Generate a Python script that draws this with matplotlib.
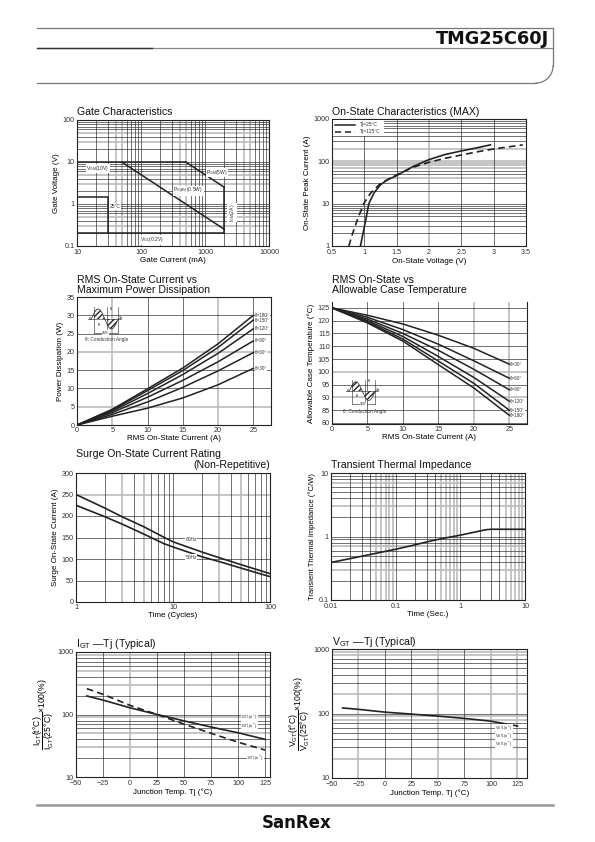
import numpy as np
import matplotlib
matplotlib.use("Agg")
import matplotlib.pyplot as plt

plt.rcParams['font.family'] = ['Liberation Sans', 'DejaVu Sans', 'Noto Sans CJK JP']
plt.rcParams['mathtext.fontset'] = 'custom'
plt.rcParams['mathtext.rm'] = 'Liberation Sans'
plt.rcParams['mathtext.it'] = 'Liberation Sans'

# ---------------- data ----------------
# Gate characteristics (mA, V)
gate_vgm_x = [10, 500]; gate_vgm_y = [10, 10]
gate_pgm_x = [500, 2000]; gate_pgm_y = [10, 2.5]
gate_igm_x = [2000, 2000]; gate_igm_y = [2.5, 0.2]
gate_pgav_x = [50, 2000]; gate_pgav_y = [10, 0.25]
gate_vgd_x = [10, 2000]; gate_vgd_y = [0.2, 0.2]
gate_25_x = [10, 30, 30]; gate_25_y = [1.5, 1.5, 0.2]

# On-state characteristics
on_v25 = [0.94, 0.98, 1.02, 1.07, 1.15, 1.25, 1.35, 1.5, 1.75, 2.0, 2.25, 2.5, 2.75, 2.95]
on_i25 = [1, 2, 4, 10, 18, 28, 36, 46, 75, 110, 145, 176, 210, 245]
on_v125 = [0.76, 0.82, 0.9, 0.99, 1.1, 1.25, 1.4, 1.5, 1.75, 2.0, 2.25, 2.5, 2.75, 3.0, 3.25, 3.45]
on_i125 = [1, 2, 4.5, 10, 18, 30, 40, 48, 72, 95, 118, 141, 168, 196, 222, 245]

# RMS current vs power dissipation
rms_x = [0, 5, 10, 15, 20, 25]
pw_labels = ['θ=180°', 'θ=150°', 'θ=120°', 'θ=90°', 'θ=60°', 'θ=30°']
pw_180 = [0, 4.3, 9.9, 15.6, 22.2, 30.0]
pw_150 = [0, 4.1, 9.4, 14.9, 21.2, 28.7]
pw_120 = [0, 3.8, 8.6, 13.8, 19.6, 26.3]
pw_90 = [0, 3.4, 7.6, 12.2, 17.3, 23.0]
pw_60 = [0, 2.9, 6.3, 10.3, 14.8, 19.8]
pw_30 = [0, 2.4, 4.6, 7.4, 11.0, 15.5]

# RMS current vs allowable case temperature
ct_labels = ['θ=30°', 'θ=60°', 'θ=90°', 'θ=120°', 'θ=150°', 'θ=180°']
ct_30 = [125, 122.1, 118.7, 114.3, 109.2, 103.0]
ct_60 = [125, 121.3, 116.5, 110.8, 104.3, 97.5]
ct_90 = [125, 120.6, 115.0, 108.4, 101.0, 93.0]
ct_120 = [125, 120.0, 113.8, 106.0, 97.8, 88.5]
ct_150 = [125, 119.5, 112.8, 104.2, 95.5, 85.0]
ct_180 = [125, 119.1, 112.0, 102.8, 93.7, 83.0]

# Surge current
surge_cyc = [1, 2, 3, 5, 8, 10, 20, 30, 50, 100]
surge_60 = [250, 218, 198, 175, 151, 140, 116, 103, 87, 66]
surge_50 = [225, 198, 181, 158, 136, 128, 105, 94, 79, 59]

# Transient thermal impedance
tt_t = [0.01, 0.02, 0.04, 0.1, 0.2, 0.3, 0.5, 1, 2, 2.5, 3, 5, 10]
tt_z = [0.39, 0.45, 0.52, 0.63, 0.74, 0.82, 0.92, 1.05, 1.22, 1.28, 1.3, 1.3, 1.3]

# IGT - Tj
igt_t = [-40, -25, 0, 25, 50, 75, 100, 125]
igt_solid = [198, 170, 128, 100, 79, 63, 51, 40]
igt_dash = [259, 210, 140, 100, 70, 50, 36, 27]
igt_labels = ['I$_{\\rm GT1}$(Ⅰ$^+$)', 'I$_{\\rm GT1}$(Ⅰ$^-$)', 'I$_{\\rm GT1}$(Ⅲ$^-$)']

# VGT - Tj
vgt_t = [-40, -25, 0, 25, 50, 75, 100, 125]
vgt_v = [122, 116, 105, 98, 91, 84, 76, 64]
vgt_labels = ['V$_{\\rm GT1}$(Ⅰ$^+$)', 'V$_{\\rm GT1}$(Ⅰ$^-$)', 'V$_{\\rm GT1}$(Ⅲ$^-$)']

# ---------------- layout helpers ----------------
W, H = 595, 842
fig = plt.figure(figsize=(W / 100, H / 100), dpi=100)

BLK = '#222222'
GRY = '#bbbbbb'
TICK_FS = 5.2
LAB_FS = 5.8
TITLE_FS = 7.6


def add_ax(x0, y0, x1, y1):
    return fig.add_axes([x0 / W, 1 - y1 / H, (x1 - x0) / W, (y1 - y0) / H])


def style(ax, xpad=1.5):
    for s in ax.spines.values():
        s.set_linewidth(0.8)
        s.set_color(BLK)
    ax.tick_params(length=0, labelsize=TICK_FS, pad=1.5, colors='#333333')
    ax.tick_params(axis='x', pad=xpad)
    ax.minorticks_off()


def vline(ax, v, gray=False):
    ax.axvline(v, color=GRY if gray else BLK, lw=1.2 if gray else 0.45, zorder=0.5 if gray else 0.6)


def hline(ax, v, gray=False):
    ax.axhline(v, color=GRY if gray else BLK, lw=1.2 if gray else 0.45, zorder=0.5 if gray else 0.6)


def loggrid(ax, axis, e0, e1, grays, gray_vals=()):
    for e in range(e0, e1):
        for k in range(1, 10):
            v = k * 10.0 ** e
            g = (k in grays) or any(abs(v - gv) < 1e-9 * max(1, gv) for gv in gray_vals)
            (vline if axis == 'x' else hline)(ax, v, g)


def title(ax, txt, x_px, y_px, fs=TITLE_FS, ha='left'):
    fig.text(x_px / W, 1 - y_px / H, txt, fontsize=fs, ha=ha, va='baseline', color='#111111')


def small(ax, x, y, txt, fs=3.6, **kw):
    ax.text(x, y, txt, fontsize=fs, color='#333333',
            bbox=dict(facecolor='white', edgecolor='none', pad=0.2), zorder=5, **kw)


def cond_inset(x0, y0, x1, y1, text_y):
    a = add_ax(x0, y0, x1, y1)
    a.set_axis_off()
    th = np.linspace(0, 2 * np.pi, 200)
    a.plot(th, np.sin(th), color=BLK, lw=0.5)
    a.axhline(0, color=BLK, lw=0.4)
    m1 = (th >= 0.6) & (th <= np.pi)
    a.fill_between(th[m1], 0, np.sin(th[m1]), facecolor='white', edgecolor=BLK, hatch='//////', lw=0)
    m2 = (th >= np.pi + 0.6) & (th <= 2 * np.pi)
    a.fill_between(th[m2], 0, np.sin(th[m2]), facecolor='white', edgecolor=BLK, hatch='//////', lw=0)
    a.plot([0.6, 0.6], [-1.4, 1.2], color=BLK, lw=0.4)
    a.plot([np.pi + 0.6] * 2, [-1.2, 1.2], color=BLK, lw=0.4)
    a.plot([2 * np.pi] * 2, [-1.4, 1.2], color=BLK, lw=0.4)
    a.plot([0.6, 2 * np.pi], [-1.35, -1.35], color=BLK, lw=0.4)
    a.text(-0.2, 0, '0', fontsize=2.6, ha='right', va='center')
    a.text(2 * np.pi + 0.15, 0.1, '2π', fontsize=2.6, ha='left', va='center')
    a.text(1.8, -0.55, 'θ', fontsize=2.6, ha='center', va='center')
    a.text(np.pi + 1.5, 1.05, 'θ', fontsize=2.6, ha='center', va='center')
    a.text(3.4, -1.35, '360°', fontsize=2.4, ha='center', va='center',
           bbox=dict(facecolor='white', edgecolor='none', pad=0.1))
    a.set_xlim(-0.8, 7.2)
    a.set_ylim(-1.6, 1.4)
    fig.text(x0 / W - 0.005, 1 - text_y / H, 'θ: Conduction Angle', fontsize=3.4, color='#333333')


# ---------------- page decoration ----------------
bg = fig.add_axes([0, 0, 1, 1])
bg.set_xlim(0, W)
bg.set_ylim(H, 0)
bg.set_axis_off()
bg.plot([37, 553], [28, 28], color='#777777', lw=0.9)
bg.plot([37, 553], [48, 48], color='#888888', lw=0.9)
bg.plot([37, 152], [48, 48], color='#333333', lw=1.0)
bg.plot([553, 553], [28, 66], color='#777777', lw=0.9)
th = np.linspace(0, np.pi / 2, 30)
bg.plot(536 + 17 * np.cos(th), 66 + 17 * np.sin(th), color='#777777', lw=0.9)
bg.plot([37, 536], [83, 83], color='#777777', lw=0.9)
bg.text(549, 44.5, 'TMG25C60J', fontsize=12.8, fontweight='bold', ha='right', va='baseline',
        color='#111111', family='DejaVu Sans')
bg.plot([37, 553], [805, 805], color='#999999', lw=1.8)
bg.text(297, 828, 'SanRex', fontsize=12, fontweight='bold', ha='center', va='baseline',
        color='#111111', family='DejaVu Sans')

# ---------------- Gate Characteristics ----------------
ax = add_ax(77, 120, 269, 246)
ax.set_xscale('log'); ax.set_yscale('log')
ax.set_xlim(10, 10000); ax.set_ylim(0.1, 100)
loggrid(ax, 'x', 1, 4, {4, 5})
loggrid(ax, 'y', -1, 2, {3, 5})
for xs, ys in [(gate_vgm_x, gate_vgm_y), (gate_pgm_x, gate_pgm_y), (gate_igm_x, gate_igm_y),
               (gate_pgav_x, gate_pgav_y), (gate_vgd_x, gate_vgd_y), (gate_25_x, gate_25_y)]:
    ax.plot(xs, ys, color=BLK, lw=1.1, zorder=3)
ax.set_xticks([10, 100, 1000, 10000]); ax.set_xticklabels(['10', '100', '1000', '10000'])
ax.set_yticks([0.1, 1, 10, 100]); ax.set_yticklabels(['0.1', '1', '10', '100'])
style(ax, xpad=2.2)
ax.set_xlabel('Gate Current (mA)', fontsize=LAB_FS, labelpad=1)
ax.set_ylabel('Gate Voltage (V)', fontsize=LAB_FS, labelpad=2)
small(ax, 14, 7.0, 'V$_{\\rm GM}$(10V)', va='center')
small(ax, 1050, 5.6, 'P$_{\\rm GM}$(5W)', va='center')
small(ax, 320, 2.05, 'P$_{\\rm G(AV)}$(0.5W)', va='center')
small(ax, 32, 0.85, '25°C', va='center')
small(ax, 95, 0.14, 'V$_{\\rm GD}$(0.2V)', va='center')
small(ax, 2250, 0.62, 'I$_{\\rm GM}$(2A)', va='center', rotation=90)
title(ax, 'Gate Characteristics', 77, 115)

# ---------------- On-State Characteristics ----------------
ax = add_ax(332, 119, 526, 246)
ax.set_yscale('log')
ax.set_xlim(0.5, 3.5); ax.set_ylim(1, 1000)
for v in [1, 1.5, 2.5, 3]:
    vline(ax, v)
vline(ax, 2.0, True)
loggrid(ax, 'y', 0, 3, set(), gray_vals=(40, 70, 80, 90, 100, 200))
ax.plot(on_v25, on_i25, color=BLK, lw=1.2, zorder=3)
ax.plot(on_v125, on_i125, color=BLK, lw=1.2, ls=(0, (4, 2.5)), zorder=3)
ax.set_xticks([0.5, 1, 1.5, 2, 2.5, 3, 3.5])
ax.set_xticklabels(['0.5', '1', '1.5', '2', '2.5', '3', '3.5'])
ax.set_yticks([1, 10, 100, 1000]); ax.set_yticklabels(['1', '10', '100', '1000'])
style(ax, xpad=2.5)
ax.set_xlabel('On-State Voltage (V)', fontsize=LAB_FS, labelpad=1)
ax.set_ylabel('On-State Peak Current (A)', fontsize=LAB_FS, labelpad=2)
la = add_ax(333, 120, 384, 136)
la.set_xlim(0, 50); la.set_ylim(16, 0)
la.set_facecolor('white')
for s in la.spines.values():
    s.set_visible(False)
la.set_xticks([]); la.set_yticks([])
la.plot([2, 22], [4.5, 4.5], color=BLK, lw=1.1)
la.plot([2, 22], [11.5, 11.5], color=BLK, lw=1.1, ls=(0, (4, 2.5)))
la.text(26, 4.5, 'Tj=25°C', fontsize=3.6, va='center', color='#333333')
la.text(26, 11.5, 'Tj=125°C', fontsize=3.6, va='center', color='#333333')
title(ax, 'On-State Characteristics (MAX)', 332, 115)

# ---------------- RMS vs Power ----------------
ax = add_ax(77, 297, 271, 425)
ax.set_xlim(0, 27.5); ax.set_ylim(0, 35)
for v in [10, 15, 25]:
    vline(ax, v)
for v in [5, 20]:
    vline(ax, v, True)
for v in [10, 15, 25, 30]:
    hline(ax, v)
for v in [5, 20]:
    hline(ax, v, True)
for ys, lb in zip([pw_180, pw_150, pw_120, pw_90, pw_60, pw_30], pw_labels):
    ax.plot(rms_x, ys, color=BLK, lw=1.1, zorder=3)
    ax.text(25.2, ys[-1], lb, fontsize=3.3, va='center', color='#333333',
            bbox=dict(facecolor='white', edgecolor='none', pad=0.1), zorder=5)
ax.set_xticks([0, 5, 10, 15, 20, 25]); ax.set_yticks([0, 5, 10, 15, 20, 25, 30, 35])
style(ax)
ax.set_xlabel('RMS On-State Current (A)', fontsize=LAB_FS, labelpad=1)
ax.set_ylabel('Power Dissipation (W)', fontsize=LAB_FS, labelpad=2)
title(ax, 'RMS On-State Current vs', 77, 283)
title(ax, 'Maximum Power Dissipation', 77, 293)
cond_inset(88, 305, 122, 335, 341)

# ---------------- RMS vs Case Temperature ----------------
ax = add_ax(332, 302, 527, 424)
ax.set_xlim(0, 27.5); ax.set_ylim(79.6, 127.3)
for v in [5, 10, 15]:
    vline(ax, v)
for v in [20, 25]:
    vline(ax, v, True)
for v in range(80, 130, 5):
    hline(ax, v, v in (100, 90))
for ys, lb in zip([ct_30, ct_60, ct_90, ct_120, ct_150, ct_180], ct_labels):
    ax.plot(rms_x, ys, color=BLK, lw=1.1, zorder=3)
    ax.text(25.1, ys[-1], lb, fontsize=3.3, va='center', color='#333333',
            bbox=dict(facecolor='white', edgecolor='none', pad=0.1), zorder=5)
ax.set_xticks([0, 5, 10, 15, 20, 25]); ax.set_yticks(list(range(80, 130, 5)))
style(ax)
ax.spines['top'].set_visible(False)
ax.set_xlabel('RMS On-State Current (A)', fontsize=LAB_FS, labelpad=1)
ax.set_ylabel('Allowable Case Temperature (°C)', fontsize=LAB_FS, labelpad=2)
title(ax, 'RMS On-State vs', 332, 283)
title(ax, 'Allowable Case Temperature', 332, 293)
cond_inset(346, 378, 379, 406, 413)

# ---------------- Surge ----------------
ax = add_ax(76, 473, 270, 602)
ax.set_xscale('log')
ax.set_xlim(1, 100); ax.set_ylim(0, 300)
loggrid(ax, 'x', 0, 2, {5, 3})
for v in [50, 100, 150, 200]:
    hline(ax, v)
hline(ax, 250, True)
ax.plot(surge_cyc, surge_60, color=BLK, lw=1.2, zorder=3)
ax.plot(surge_cyc, surge_50, color=BLK, lw=1.2, zorder=3)
small(ax, 13.5, 146, '60Hz', fs=3.5, va='center')
small(ax, 13.5, 104, '50Hz', fs=3.5, va='center')
ax.set_xticks([1, 10, 100]); ax.set_xticklabels(['1', '10', '100'])
ax.set_yticks([0, 50, 100, 150, 200, 250, 300])
style(ax)
ax.set_xlabel('Time (Cycles)', fontsize=LAB_FS, labelpad=1)
ax.set_ylabel('Surge On-State Current (A)', fontsize=LAB_FS, labelpad=2)
title(ax, 'Surge On-State Current Rating', 76, 457)
title(ax, '(Non-Repetitive)', 270, 468, ha='right')

# ---------------- Transient ----------------
ax = add_ax(331, 473, 525, 600)
ax.set_xscale('log'); ax.set_yscale('log')
ax.set_xlim(0.01, 10); ax.set_ylim(0.1, 10)
loggrid(ax, 'x', -2, 1, {5, 6, 7, 8, 9})
loggrid(ax, 'y', -1, 1, {3, 7})
ax.plot(tt_t, tt_z, color=BLK, lw=1.2, zorder=3)
ax.set_xticks([0.01, 0.1, 1, 10]); ax.set_xticklabels(['0.01', '0.1', '1', '10'])
ax.set_yticks([0.1, 1, 10]); ax.set_yticklabels(['0.1', '1', '10'])
style(ax, xpad=2.2)
ax.set_xlabel('Time (Sec.)', fontsize=LAB_FS, labelpad=1)
ax.set_ylabel('Transient Thermal Impedance (°C/W)', fontsize=LAB_FS - 0.3, labelpad=2)
title(ax, 'Transient Thermal Impedance', 331, 468)

# ---------------- IGT - Tj ----------------
ax = add_ax(76, 652, 270, 777)
ax.set_yscale('log')
ax.set_xlim(-50, 129.5); ax.set_ylim(10, 1000)
for v in [-25, 25, 50, 75, 100, 125]:
    vline(ax, v)
vline(ax, 0, True)
loggrid(ax, 'y', 1, 3, {3, 5, 9})
ax.plot(igt_t, igt_solid, color=BLK, lw=1.2, zorder=3)
ax.plot(igt_t, igt_dash, color=BLK, lw=1.2, ls=(0, (4, 2.5)), zorder=3)
small(ax, 103, 88, igt_labels[0], fs=3.1, va='center')
small(ax, 103, 65, igt_labels[1], fs=3.1, va='center')
small(ax, 108, 20, igt_labels[2], fs=3.1, va='center')
ax.set_xticks([-50, -25, 0, 25, 50, 75, 100, 125])
ax.set_xticklabels(['−50', '−25', '0', '25', '50', '75', '100', '125'])
ax.set_yticks([10, 100, 1000]); ax.set_yticklabels(['10', '100', '1000'])
style(ax, xpad=2.2)
ax.set_xlabel('Junction Temp. Tj (°C)', fontsize=LAB_FS, labelpad=1)
ax.set_ylabel(r'$\dfrac{\mathrm{I_{GT}(t°C)}}{\mathrm{I_{GT}(25°C)}}$×100(%)', fontsize=LAB_FS + 0.4, labelpad=1)
title(ax, r'I$_{\rm GT}$ —Tj (Typical)', 76, 647)

# ---------------- VGT - Tj ----------------
ax = add_ax(332, 649, 527, 778)
ax.set_yscale('log')
ax.set_xlim(-50, 134); ax.set_ylim(10, 1000)
for v in [0, 25, 75]:
    vline(ax, v)
for v in [-25, 50, 100, 125]:
    vline(ax, v, True)
loggrid(ax, 'y', 1, 3, {2, 8, 9})
ax.plot(vgt_t, vgt_v, color=BLK, lw=1.2, zorder=3)
small(ax, 104, 58, vgt_labels[0], fs=3.0, va='center')
small(ax, 104, 44, vgt_labels[1], fs=3.0, va='center')
small(ax, 104, 34, vgt_labels[2], fs=3.0, va='center')
ax.set_xticks([-50, -25, 0, 25, 50, 75, 100, 125])
ax.set_xticklabels(['−50', '−25', '0', '25', '50', '75', '100', '125'])
ax.set_yticks([10, 100, 1000]); ax.set_yticklabels(['10', '100', '1000'])
style(ax, xpad=2.2)
ax.set_xlabel('Junction Temp. Tj (°C)', fontsize=LAB_FS, labelpad=1)
ax.set_ylabel(r'$\dfrac{\mathrm{V_{GT}(t°C)}}{\mathrm{V_{GT}(25°C)}}$×100(%)', fontsize=LAB_FS + 0.4, labelpad=1)
title(ax, r'V$_{\rm GT}$ —Tj (Typical)', 332, 645)

fig.savefig('out.png', dpi=100)
